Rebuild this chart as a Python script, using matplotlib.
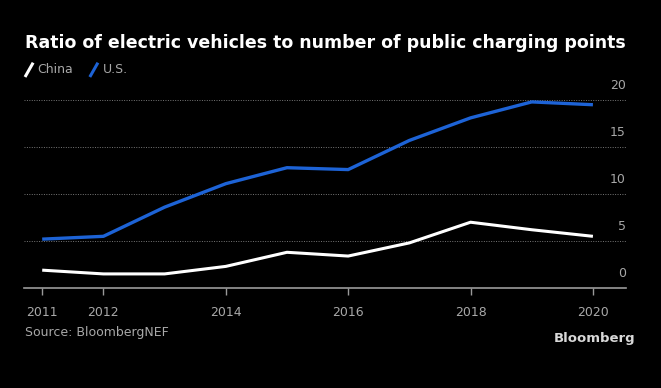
import matplotlib.pyplot as plt
import matplotlib.transforms as mtransforms
from matplotlib.lines import Line2D

anos = [2011, 2012, 2013, 2014, 2015, 2016, 2017, 2018, 2019, 2020]
china = [1.9, 1.5, 1.5, 2.3, 3.8, 3.4, 4.8, 7.0, 6.2, 5.5]
eua = [5.2, 5.5, 8.6, 11.1, 12.8, 12.6, 15.7, 18.1, 19.8, 19.5]
ticks_x = [2011, 2012, 2014, 2016, 2018, 2020]
ticks_y = [0, 5, 10, 15, 20]

azul = '#1d63d6'
cinza = '#a8a8a8'

fig = plt.figure(figsize=(6.61, 3.88), dpi=100, facecolor='black')
ax = fig.add_axes([0.037, 0.2577, 0.91, 0.4845], facecolor='black')

ax.plot(anos, china, color='white', lw=2.2, solid_capstyle='butt', zorder=3)
ax.plot(anos, eua, color=azul, lw=2.4, solid_capstyle='butt', zorder=4)

ax.set_xlim(2010.71, 2020.54)
ax.set_ylim(0, 20)

# grade pontilhada
for v in ticks_y[1:]:
    ax.axhline(v, color='#777777', lw=0.7, ls=(0, (1, 1.5)), zorder=1)

for s in ['top', 'right', 'left']:
    ax.spines[s].set_visible(False)
ax.spines['bottom'].set_color('#9a9a9a')
ax.spines['bottom'].set_linewidth(1.2)

ax.set_xticks(ticks_x)
ax.set_xticklabels([str(t) for t in ticks_x])
ax.tick_params(axis='x', colors='#9a9a9a', length=5, width=1, labelsize=9,
               labelcolor=cinza, pad=8, direction='out')
ax.set_yticks([])

# rotulos do eixo y acima das linhas
trans = mtransforms.blended_transform_factory(ax.transAxes, ax.transData)
off = mtransforms.offset_copy(trans, fig=fig, x=0, y=8, units='dots')
for v in ticks_y:
    ax.text(1.0, v, str(v), transform=off, ha='right', va='bottom',
            color=cinza, fontsize=9)

fig.text(0.038, 0.89, 'Ratio of electric vehicles to number of public charging points',
         color='white', fontsize=12.5, fontweight='bold', va='center', ha='left')

# legenda com tracos inclinados
fig.add_artist(Line2D([0.039, 0.049], [0.805, 0.835], color='white', lw=2.2,
                      transform=fig.transFigure))
fig.text(0.057, 0.82, 'China', color=cinza, fontsize=9, va='center')
fig.add_artist(Line2D([0.137, 0.147], [0.805, 0.835], color=azul, lw=2.2,
                      transform=fig.transFigure))
fig.text(0.155, 0.82, 'U.S.', color=cinza, fontsize=9, va='center')

fig.text(0.038, 0.142, 'Source: BloombergNEF', color=cinza, fontsize=9, va='center')
fig.text(0.961, 0.127, 'Bloomberg', color='#d8d8d8', fontsize=9.5,
         fontweight='bold', va='center', ha='right')

plt.savefig('out.png', dpi=100, facecolor='black')
